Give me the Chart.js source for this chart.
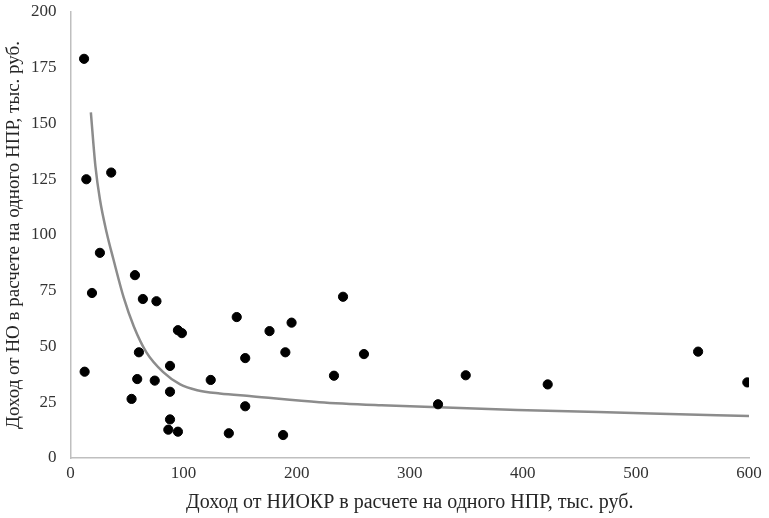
<!DOCTYPE html>
<html>
<head>
<meta charset="utf-8">
<script src="https://cdn.jsdelivr.net/npm/chart.js@4"></script>
<style>
  html, body { margin: 0; padding: 0; background: #fff; }
  #wrap { width: 769px; height: 518px; }
</style>
</head>
<body>
<div id="wrap"><canvas id="grafica"></canvas></div>
<script>
// точки: доход от НИОКР (x) и доход от НО (y)
const ingresoNiokr = [12, 14, 36, 26, 19, 12.5, 57, 64, 76, 95, 98.5, 60.5, 59, 74.5, 54, 88, 88, 88, 86.5, 95,
  124, 147, 154.5, 154.5, 140, 176, 195.5, 190, 188, 241, 233, 259.5, 325, 349.5, 422, 555, 598.5];
const ingresoNo = [179, 125, 128, 92, 74, 38.7, 82, 71.3, 70.3, 57.3, 56, 47.4, 35.4, 34.7, 26.5, 41.3, 29.7, 17.3, 12.7, 11.8,
  35, 63.2, 44.8, 23.2, 11.1, 56.9, 60.7, 47.4, 10.3, 72.3, 36.9, 46.6, 24.1, 37.1, 33, 47.7, 33.9];

// линия тренда
const trendX = [18, 22, 26, 32, 38, 47, 56, 67, 82, 97, 112, 132, 160, 220, 275, 395, 513, 600];
const trendY = [155, 131, 116, 101, 89, 72, 59, 47.5, 38.5, 33, 30.4, 28.9, 27.7, 25, 23.6, 21.5, 20, 18.8];

const tituloX = 'Доход от НИОКР в расчете на одного НПР, тыс. руб.';
const tituloY = 'Доход от НО в расчете на одного НПР, тыс. руб.';

const fuente = '"Liberation Serif", "Times New Roman", serif';

const puntos = ingresoNiokr.map((x, i) => ({ x, y: ingresoNo[i] }));
const tendencia = trendX.map((x, i) => ({ x, y: trendY[i] }));

const ctx = document.getElementById('grafica').getContext('2d');
new Chart(ctx, {
  type: 'scatter',
  data: {
    datasets: [
      {
        label: 'Тренд',
        data: tendencia,
        showLine: true,
        borderColor: '#8c8c8c',
        borderWidth: 2.5,
        pointRadius: 0,
        cubicInterpolationMode: 'monotone',
        order: 2
      },
      {
        label: 'Вузы',
        data: puntos,
        backgroundColor: '#000',
        borderColor: '#000',
        pointRadius: 4.6,
        order: 1
      }
    ]
  },
  options: {
    responsive: true,
    maintainAspectRatio: false,
    animation: false,
    layout: { padding: { top: 12, right: 20, left: 0, bottom: 0 } },
    plugins: {
      legend: { display: false },
      tooltip: { enabled: false }
    },
    scales: {
      x: {
        type: 'linear',
        min: 0,
        max: 600,
        afterFit: s => { s.height = 60; },
        grid: { display: false, drawTicks: false },
        border: { display: true, color: '#bfbfbf', width: 1.5 },
        ticks: { stepSize: 100, padding: 5, color: '#333', font: { family: fuente, size: 17 } },
        title: { display: true, text: tituloX, color: '#262626', padding: { top: 0, bottom: 3 }, font: { family: fuente, size: 20 } }
      },
      y: {
        min: 0,
        max: 200,
        afterFit: s => { s.width = 70.5; s.paddingTop = 0; s.paddingBottom = 0; },
        grid: { display: false, drawTicks: false },
        border: { display: true, color: '#bfbfbf', width: 1.5 },
        ticks: { stepSize: 25, padding: 14, color: '#333', font: { family: fuente, size: 17 } },
        title: { display: true, text: tituloY, color: '#262626', padding: { top: 3, bottom: 0 }, font: { family: fuente, size: 19 } }
      }
    }
  }
});
</script>
</body>
</html>
